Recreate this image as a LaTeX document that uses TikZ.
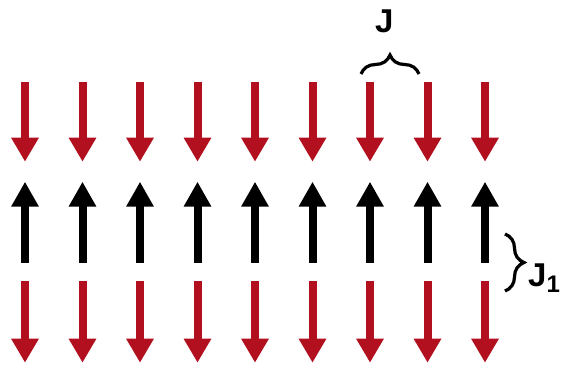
\documentclass[tikz,border=0pt]{standalone}
\usepackage{fontspec}
\setmainfont{Liberation Sans}
\usetikzlibrary{arrows.meta,decorations.pathreplacing}
\definecolor{arrred}{RGB}{178,16,30}
\begin{document}
\begin{tikzpicture}[x=1pt,y=-1pt,
  redarrow/.style={draw=arrred,line width=8pt,-{Triangle[width=26pt,length=24pt,fill=arrred]}},
  blackarrow/.style={draw=black,line width=8pt,-{Triangle[width=26pt,length=25pt]}},
  bracestyle/.style={draw=black,line width=3.2pt,decorate,decoration={brace,amplitude=19pt,aspect=0.5}},
  lbl/.style={font=\bfseries\fontsize{33}{33}\selectfont,inner sep=0pt}]
\useasboundingbox (0,0) rectangle (561,364);
\foreach \i in {0,...,8}{
  \pgfmathsetmacro{\xx}{25+57.5*\i}
  \coordinate (ts\i) at (\xx,81.7);
  \coordinate (te\i) at (\xx,161.7);
  \coordinate (ms\i) at (\xx,262.7);
  \coordinate (me\i) at (\xx,181.7);
  \coordinate (bs\i) at (\xx,281);
  \coordinate (be\i) at (\xx,362.7);
  \draw[redarrow] (ts\i) -- (te\i);
  \draw[blackarrow] (ms\i) -- (me\i);
  \draw[redarrow] (bs\i) -- (be\i);
}
\coordinate (jl) at (361,74);
\coordinate (jr) at (419,74);
\draw[bracestyle] (jl) -- (jr);
\coordinate (j1t) at (505,234);
\coordinate (j1b) at (505,291);
\draw[bracestyle] (j1t) -- (j1b);
\node[lbl,anchor=base west] (J) at (375,32.5) {J};
\node[lbl,anchor=base west] (J1) at (528,286) {J\raisebox{-6pt}{\fontsize{24}{24}\selectfont 1}};
\end{tikzpicture}
\end{document}
